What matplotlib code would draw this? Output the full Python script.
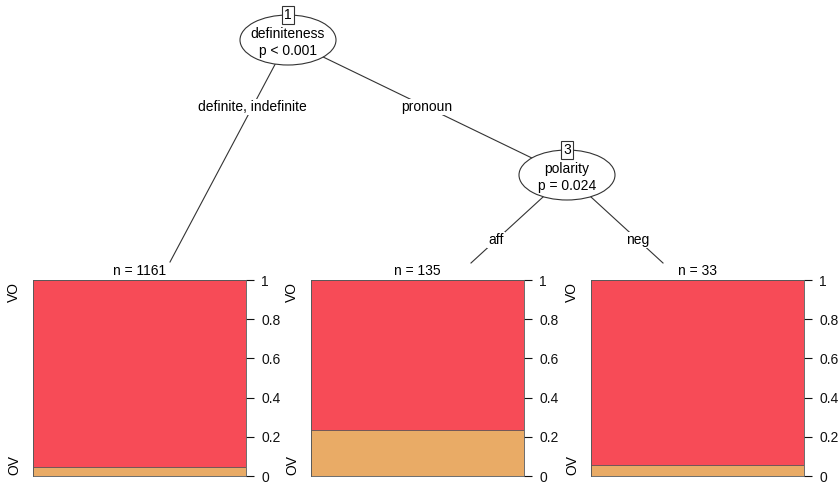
import matplotlib
matplotlib.use('Agg')
import matplotlib.pyplot as plt
from matplotlib.patches import Ellipse

plt.rcParams['font.family'] = ['Liberation Sans', 'DejaVu Sans']

# Tree content
inner_ids = ['1', '3']
inner_vars = ['definiteness', 'polarity']
inner_pvals = ['p < 0.001', 'p = 0.024']
edge_labels = ['definite, indefinite', 'pronoun', 'aff', 'neg']

# Terminal nodes
node_n = [1161, 135, 33]
ov_share = [0.047, 0.235, 0.056]
vo_share = [1 - v for v in ov_share]
class_labels = ['OV', 'VO']
yticks = [0, 0.2, 0.4, 0.6, 0.8, 1]
ytick_labels = ['0', '0.2', '0.4', '0.6', '0.8', '1']

red = '#F74B57'
orange = '#E9AB66'
line_col = '#333333'
fs = 10

W, H = 840, 483
fig = plt.figure(figsize=(W / 100, H / 100), dpi=100)

# overlay in pixel coordinates for the tree part
ov = fig.add_axes([0, 0, 1, 1])
ov.set_xlim(0, W)
ov.set_ylim(H, 0)
ov.axis('off')

# positions (pixels)
inner_pos = [(288, 40), (567, 175)]
term_left = [33, 311, 591]
panel_w = 213
panel_top, panel_bot = 280, 476
edge_ends = [(170, 262), (471, 263), (663, 263)]

# edges: parent center -> child
edges = [
    (inner_pos[0], edge_ends[0], edge_labels[0], 107),
    (inner_pos[0], inner_pos[1], edge_labels[1], 107),
    (inner_pos[1], edge_ends[1], edge_labels[2], 240),
    (inner_pos[1], edge_ends[2], edge_labels[3], 240),
]
for (x0, y0), (x1, y1), lab, ly in edges:
    ov.plot([x0, x1], [y0, y1], color=line_col, lw=0.8, zorder=1)
    lx = x0 + (x1 - x0) * (ly - y0) / (y1 - y0)
    ov.text(lx, ly, lab, ha='center', va='center', fontsize=fs, zorder=3,
            bbox=dict(boxstyle='square,pad=0.1', facecolor='white', edgecolor='none'))

# inner nodes
for (x, y), nid, var, p in zip(inner_pos, inner_ids, inner_vars, inner_pvals):
    ov.add_patch(Ellipse((x, y), 96, 50, facecolor='white', edgecolor=line_col,
                         lw=0.8, zorder=4))
    ov.text(x, y - 6, var, ha='center', va='center', fontsize=fs, zorder=5)
    ov.text(x, y + 11, p, ha='center', va='center', fontsize=fs, zorder=5)
    ov.text(x, y - 25, nid, ha='center', va='center', fontsize=fs, zorder=6,
            bbox=dict(boxstyle='square,pad=0.15', facecolor='white',
                      edgecolor=line_col, lw=0.8))

# terminal panels
for i, left in enumerate(term_left):
    ax = fig.add_axes([left / W, 1 - panel_bot / H, panel_w / W,
                       (panel_bot - panel_top) / H])
    ax.bar(0.5, ov_share[i], width=1, color=orange, edgecolor='#555555', lw=0.5)
    ax.bar(0.5, vo_share[i], width=1, bottom=ov_share[i], color=red,
           edgecolor='#555555', lw=0.5)
    ax.set_xlim(0, 1)
    ax.set_ylim(0, 1)
    ax.set_xticks([])
    ax.yaxis.tick_right()
    ax.set_yticks(yticks)
    ax.set_yticklabels(ytick_labels)
    ax.tick_params(axis='y', length=6, width=0.8, pad=5, labelsize=fs,
                   colors='#111111')
    for s in ax.spines.values():
        s.set_linewidth(0.6)
        s.set_color('#555555')
    ov.text(left + panel_w / 2, 271, f'n = {node_n[i]}', ha='center',
            va='center', fontsize=fs)
    ov.text(left - 19, 465, class_labels[0], ha='center', va='center',
            rotation=90, fontsize=fs)
    ov.text(left - 19, 292, class_labels[1], ha='center', va='center',
            rotation=90, fontsize=fs)

fig.savefig('out.png', dpi=100)
